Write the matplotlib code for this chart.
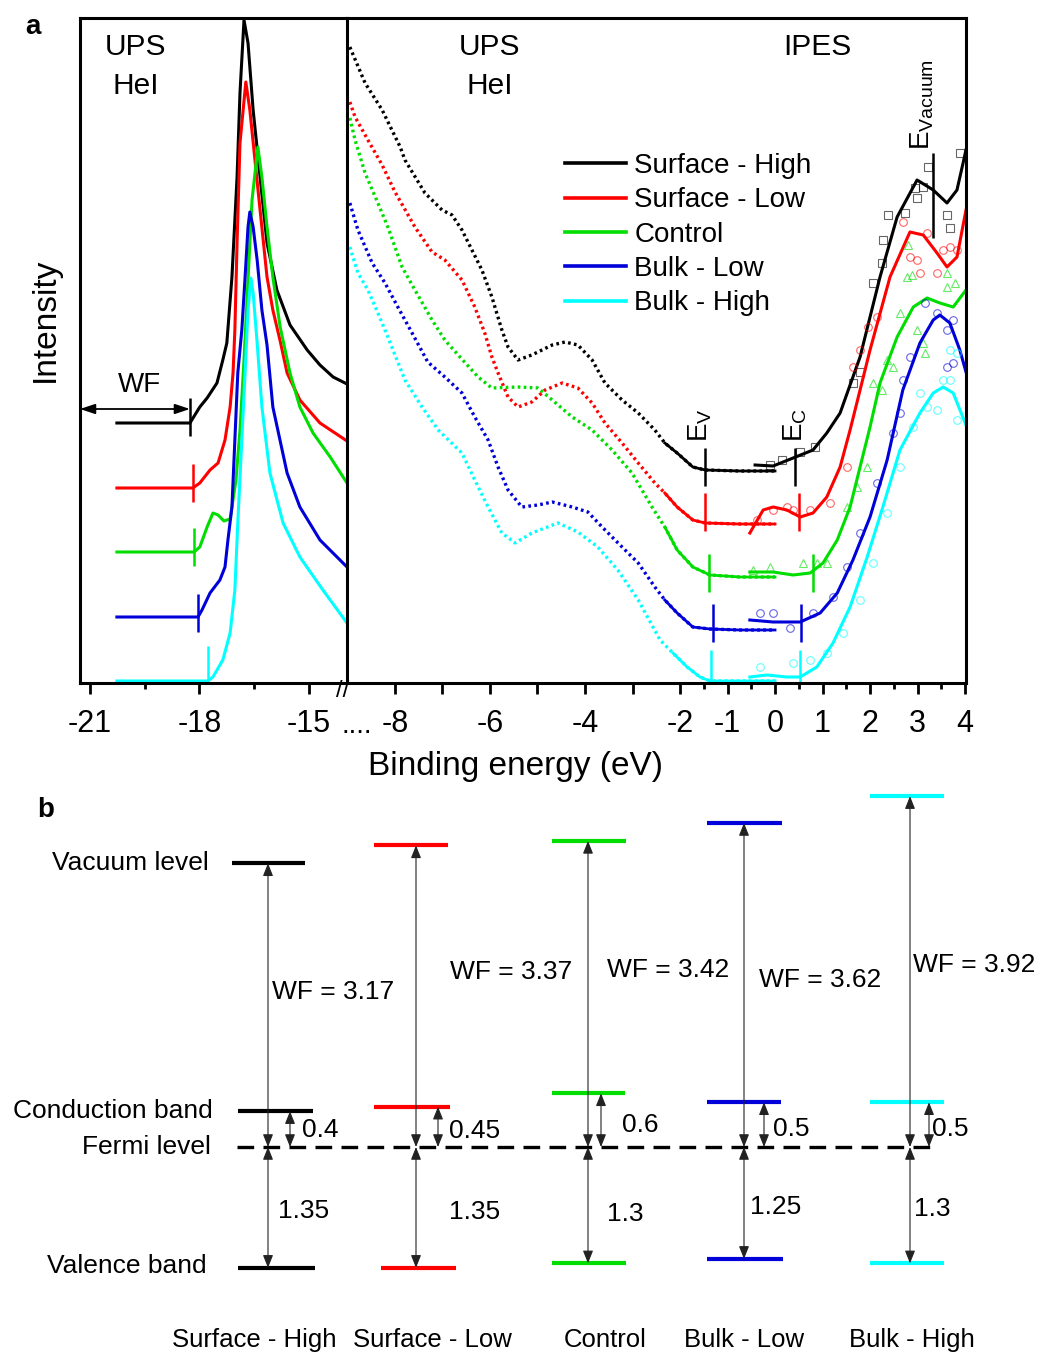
import numpy as np
import matplotlib
matplotlib.use('Agg')
import matplotlib.pyplot as plt
from matplotlib.lines import Line2D

plt.rcParams['font.family'] = ['Liberation Sans', 'DejaVu Sans']
plt.rcParams['axes.unicode_minus'] = False
plt.rcParams['mathtext.fontset'] = 'custom'
plt.rcParams['mathtext.rm'] = 'Liberation Sans'
plt.rcParams['mathtext.it'] = 'Liberation Sans:italic'

# ---------------- data ----------------
samples = ['Surface - High', 'Surface - Low', 'Control', 'Bulk - Low', 'Bulk - High']
colors = ['black', '#ff0000', '#00dd00', '#0000d8', '#00ffff']

# UPS secondary electron cutoff region (binding energy, intensity a.u.)
sec_e_sh = [-20.26, -18.26, -17.99, -17.79, -17.52, -17.36, -17.25, -17.11, -16.97, -16.89, -16.78,
            -16.67, -16.53, -16.34, -16.15, -15.88, -15.52, -15.05, -14.70, -14.34, -13.96]
sec_i_sh = [260, 260, 276, 285, 300, 323, 340, 406, 506, 590, 663,
            640, 573, 506, 440, 393, 358, 333, 318, 306, 299]
sec_e_sl = [-20.26, -18.18, -17.99, -17.71, -17.49, -17.30, -17.16, -17.08, -17.03, -16.97, -16.89,
            -16.73, -16.62, -16.48, -16.34, -16.15, -15.99, -15.79, -15.60, -15.25, -14.70, -13.96]
sec_i_sl = [195, 195, 200, 213, 220, 243, 276, 310, 353, 440, 540,
            601, 573, 523, 473, 406, 373, 342, 310, 283, 260, 242]
sec_e_ct = [-20.26, -18.15, -17.99, -17.79, -17.63, -17.49, -17.33, -17.16, -17.00, -16.89, -16.78,
            -16.67, -16.56, -16.40, -16.29, -16.15, -15.99, -15.79, -15.52, -15.25, -14.89, -14.42, -13.96]
sec_i_ct = [131, 131, 136, 156, 170, 168, 162, 164, 203, 253, 323,
            403, 483, 536, 506, 456, 406, 356, 310, 276, 250, 226, 200]
sec_e_bl = [-20.26, -18.04, -17.93, -17.71, -17.44, -17.30, -17.22, -17.11, -17.03, -16.95, -16.84,
            -16.75, -16.67, -16.62, -16.53, -16.42, -16.29, -16.15, -15.99, -15.60, -15.25, -14.70, -13.96]
sec_i_bl = [66, 66, 73, 90, 103, 116, 143, 176, 243, 310, 353,
            406, 456, 471, 456, 423, 373, 338, 276, 210, 176, 143, 116]
sec_e_bh = [-20.26, -17.77, -17.63, -17.36, -17.16, -17.03, -16.95, -16.84, -16.75, -16.67,
            -16.59, -16.53, -16.42, -16.29, -16.07, -15.71, -15.25, -14.62, -13.96]
sec_i_bh = [2, 2, 6, 23, 50, 93, 160, 243, 310, 373,
            405, 390, 340, 276, 210, 160, 126, 93, 60]
cutoff_e = [-18.26, -18.18, -18.15, -18.04, -17.77]
cutoff_i = [266, 200, 136, 70, 18]

# UPS valence region
ups_e_sh = [-8.95, -8.63, -8.27, -7.89, -7.79, -7.37, -7.01, -6.80, -6.59, -6.38, -6.17, -5.96, -5.75, -5.62,
            -5.41, -5.12, -4.69, -4.42, -4.15, -3.85, -3.58, -3.22, -2.88, -2.53, -2.32, -2.06, -1.73,
            -1.47, -0.74, 0.0]
ups_i_sh = [636, 600, 573, 536, 523, 490, 473, 468, 453, 433, 413, 386, 353, 336,
            323, 328, 338, 341, 338, 323, 300, 283, 270, 253, 240, 230, 216, 213, 212, 212]
ups_e_sl = [-8.95, -8.84, -8.57, -8.27, -8.00, -7.58, -7.22, -6.95, -6.59, -6.32, -6.11, -5.96, -5.83,
            -5.62, -5.41, -5.12, -4.84, -4.48, -4.15, -3.85, -3.58, -3.22, -2.88, -2.53, -2.32, -2.06,
            -1.73, -1.47, -0.74, 0.0]
ups_i_sl = [581, 566, 543, 518, 491, 456, 431, 423, 403, 376, 350, 326, 310,
            286, 276, 281, 293, 300, 295, 280, 260, 240, 220, 200, 190, 176, 163, 160, 159, 159]
ups_e_ct = [-8.95, -8.84, -8.63, -8.36, -8.15, -7.85, -7.58, -7.22, -6.95, -6.67, -6.25, -5.96, -5.41,
            -4.99, -4.69, -4.27, -3.85, -3.43, -3.01, -2.59, -2.32, -2.06, -1.73, -1.37, -0.74, 0.0]
ups_i_ct = [565, 543, 510, 480, 456, 416, 393, 363, 343, 328, 306, 295, 296,
            295, 283, 266, 253, 233, 210, 176, 156, 133, 116, 108, 106, 106]
ups_e_bl = [-8.95, -8.78, -8.48, -8.21, -7.94, -7.64, -7.31, -6.95, -6.59, -6.32, -6.04, -5.83, -5.62,
            -5.33, -4.99, -4.69, -4.27, -3.94, -3.64, -3.22, -2.88, -2.53, -2.32, -2.06, -1.73, -1.37,
            -0.74, 0.0]
ups_i_bl = [480, 453, 420, 400, 376, 350, 321, 306, 290, 266, 243, 216, 193,
            176, 178, 181, 176, 171, 156, 136, 120, 96, 83, 70, 56, 54, 53, 53]
ups_e_bh = [-8.95, -8.78, -8.57, -8.36, -8.15, -7.79, -7.43, -7.09, -6.59, -6.32, -6.04, -5.75, -5.47,
            -5.12, -4.57, -4.15, -3.73, -3.31, -2.88, -2.42, -2.15, -1.85, -1.58, -1.37, -0.74, 0.0]
ups_i_bh = [436, 410, 393, 370, 346, 303, 276, 253, 230, 203, 176, 150, 140,
            150, 160, 151, 136, 113, 83, 43, 30, 16, 6, 2, 2, 2]

# IPES fitted curves
ipes_e_sh = [-0.42, -0.04, 0.38, 0.80, 1.09, 1.37, 1.79, 2.21, 2.57, 2.99, 3.33, 3.62, 3.83, 4.02]
ipes_i_sh = [218, 217, 225, 233, 250, 270, 326, 406, 466, 503, 493, 480, 493, 533]
ipes_e_sl = [-0.53, -0.25, -0.04, 0.25, 0.53, 0.80, 1.09, 1.37, 1.58, 2.00, 2.42, 2.84, 3.12, 3.41,
             3.62, 3.83, 4.02]
ipes_i_sl = [150, 173, 176, 173, 166, 170, 186, 216, 253, 333, 406, 451, 448, 430, 416, 426, 473]
ipes_e_ct = [-0.53, -0.04, 0.38, 0.74, 1.01, 1.31, 1.58, 1.79, 2.00, 2.21, 2.57, 2.91, 3.20, 3.47,
             3.75, 4.02]
ipes_i_ct = [111, 111, 108, 110, 120, 143, 176, 216, 256, 300, 346, 376, 385, 380, 376, 393]
ipes_e_bl = [-0.53, -0.04, 0.53, 0.95, 1.31, 1.64, 2.00, 2.36, 2.69, 3.05, 3.33, 3.47, 3.68, 3.89, 4.02]
ipes_i_bl = [63, 61, 61, 70, 90, 123, 166, 223, 293, 340, 363, 368, 360, 333, 311]
ipes_e_bh = [-0.53, -0.17, 0.25, 0.53, 0.88, 1.22, 1.58, 1.94, 2.27, 2.63, 3.05, 3.33, 3.54, 3.75, 4.02]
ipes_i_bh = [6, 8, 6, 6, 16, 40, 76, 126, 176, 233, 270, 290, 296, 290, 258]

# IPES raw points
raw_e_sh = [-0.11, 0.15, 0.53, 0.84, 1.64, 1.79, 2.06, 2.25, 2.27, 2.38, 2.74, 2.99, 2.95, 3.12, 3.22,
            3.62, 3.68, 3.89]
raw_i_sh = [218, 223, 231, 236, 300, 311, 400, 420, 443, 468, 470, 485, 495, 496, 516, 468, 455, 530]
raw_e_sl = [-0.38, -0.04, 0.25, 0.38, 0.74, 1.16, 1.52, 1.64, 1.79, 1.96, 2.15, 2.69, 2.84, 2.99, 3.05,
            3.20, 3.41, 3.54, 3.68, 3.83]
raw_i_sl = [163, 173, 176, 173, 173, 180, 216, 316, 333, 356, 366, 461, 426, 423, 410, 450, 410, 433,
            436, 433]
raw_e_ct = [-0.46, -0.11, 0.59, 0.88, 1.09, 1.52, 1.73, 1.94, 2.06, 2.25, 2.36, 2.48, 2.63, 2.78, 2.80,
            2.88, 2.99, 3.12, 3.16, 3.62, 3.62, 3.79]
raw_i_ct = [113, 116, 120, 120, 120, 176, 196, 216, 300, 293, 323, 316, 370, 406, 438, 408, 353, 340,
            330, 396, 410, 400]
raw_e_bl = [-0.32, -0.04, 0.32, 0.80, 1.22, 1.52, 1.79, 2.15, 2.48, 2.63, 2.69, 2.84, 3.16, 3.41, 3.62,
            3.75, 3.62, 3.75]
raw_i_bl = [70, 70, 55, 70, 86, 116, 150, 200, 250, 270, 303, 326, 380, 370, 353, 363, 316, 320]
raw_e_bh = [-0.32, 0.38, 0.74, 1.09, 1.43, 1.79, 2.06, 2.36, 2.63, 2.91, 3.05, 3.20, 3.41, 3.54, 3.68,
            3.68, 3.83, 3.83]
raw_i_bh = [16, 20, 23, 30, 50, 83, 120, 170, 216, 256, 290, 276, 273, 303, 333, 303, 330, 263]

# band edge markers in panel a
ev_e = [-1.47, -1.47, -1.39, -1.31, -1.35]
ec_e = [0.42, 0.51, 0.80, 0.55, 0.53]
edge_i = [216, 171, 110, 60, 14]
evac_e = 3.33

# panel b energies (eV, relative to Fermi level)
wf = [3.17, 3.37, 3.42, 3.62, 3.92]
cb = [0.4, 0.45, 0.6, 0.5, 0.5]
vb = [1.35, 1.35, 1.3, 1.25, 1.3]
cb_labels = ['0.4', '0.45', '0.6', '0.5', '0.5']
vb_labels = ['1.35', '1.35', '1.3', '1.25', '1.3']

sec_e = [sec_e_sh, sec_e_sl, sec_e_ct, sec_e_bl, sec_e_bh]
sec_i = [sec_i_sh, sec_i_sl, sec_i_ct, sec_i_bl, sec_i_bh]
ups_e = [ups_e_sh, ups_e_sl, ups_e_ct, ups_e_bl, ups_e_bh]
ups_i = [ups_i_sh, ups_i_sl, ups_i_ct, ups_i_bl, ups_i_bh]
ipes_e = [ipes_e_sh, ipes_e_sl, ipes_e_ct, ipes_e_bl, ipes_e_bh]
ipes_i = [ipes_i_sh, ipes_i_sl, ipes_i_ct, ipes_i_bl, ipes_i_bh]
raw_e = [raw_e_sh, raw_e_sl, raw_e_ct, raw_e_bl, raw_e_bh]
raw_i = [raw_i_sh, raw_i_sl, raw_i_ct, raw_i_bl, raw_i_bh]
raw_m = ['s', 'o', '^', 'o', 'o']

# ---------------- figure ----------------
W, H = 1042, 1353
fig = plt.figure(figsize=(W / 100, H / 100), dpi=100)

ax_l = fig.add_axes([80 / W, 1 - 683 / H, 267 / W, 665 / H])
ax_r = fig.add_axes([347 / W, 1 - 683 / H, 619 / W, 665 / H])

for ax in (ax_l, ax_r):
    ax.set_ylim(0, 665)
    ax.set_yticks([])
    for s in ax.spines.values():
        s.set_linewidth(2.2)
    ax.tick_params(axis='x', which='major', direction='out', length=8, width=2,
                   labelsize=22, pad=10.5)
    ax.tick_params(axis='x', which='minor', direction='out', length=4.5, width=2)
ax_l.spines['right'].set_visible(False)

# left: secondary electron cutoff
ax_l.set_xlim(-21.27, -13.96)
ax_l.set_xticks([-21, -18, -15])
ax_l.set_xticks([-19.5, -16.5], minor=True)
for k in range(5):
    ax_l.plot(sec_e[k], sec_i[k], color=colors[k], lw=2.2)
    ax_l.vlines(cutoff_e[k], cutoff_i[k] - 19, cutoff_i[k] + 19, color=colors[k], lw=1.8)
ax_l.annotate('', xy=(-21.27, 274), xytext=(cutoff_e[0], 274),
              arrowprops=dict(arrowstyle='<|-|>,head_length=0.9,head_width=0.3',
                              color='k', lw=1.3, shrinkA=0, shrinkB=0))
ax_l.text(-19.63, 298, 'WF', fontsize=20, ha='center', va='center')
ax_l.text(-19.74, 636, 'UPS', fontsize=21.5, ha='center', va='center')
ax_l.text(-19.74, 597, 'HeI', fontsize=21.5, ha='center', va='center')

# right: valence + IPES
ax_r.set_xlim(-9.01, 4.02)
major = [-8, -7, -6, -5, -4, -3, -2, -1, 0, 1, 2, 3, 4]
ax_r.set_xticks(major)
ax_r.set_xticklabels(['-8', '', '-6', '', '-4', '', '-2', '-1', '0', '1', '2', '3', '4'])
ax_r.set_xticks([-1.5, -0.5, 0.5, 1.5, 2.5, 3.5], minor=True)

for k in range(5):
    e = np.array(ups_e[k])
    i = np.array(ups_i[k])
    ax_r.plot(e, i, color=colors[k], lw=2.4, linestyle=(0, (0.8, 1.0)))
    j = np.searchsorted(e, -2.1) - 1
    ax_r.plot(e[j:], i[j:], color=colors[k], lw=2.0)
    ax_r.plot(raw_e[k], raw_i[k], linestyle='none', marker=raw_m[k], ms=5.5, mfc='none',
              mec=colors[k], mew=0.8, alpha=0.6)
    ax_r.plot(ipes_e[k], ipes_i[k], color=colors[k], lw=2.2)
    ax_r.vlines(ev_e[k], edge_i[k] - 19, edge_i[k] + 19, color=colors[k], lw=1.8)
    ax_r.vlines(ec_e[k], edge_i[k] - 19, edge_i[k] + 19, color=colors[k], lw=1.8)
ax_r.vlines(evac_e, 445, 530, color='k', lw=1.8)

ax_r.text(-1.58, 258, r'E$_\mathrm{V}$', fontsize=20, rotation=90, ha='center', va='center')
ax_r.text(0.42, 258, r'E$_\mathrm{C}$', fontsize=20, rotation=90, ha='center', va='center')
ax_r.text(3.09, 578, r'E$_\mathrm{Vacuum}$', fontsize=20, rotation=90, ha='center', va='center')
ax_r.text(-6.0, 636, 'UPS', fontsize=21.5, ha='center', va='center')
ax_r.text(-6.0, 597, 'HeI', fontsize=21.5, ha='center', va='center')
ax_r.text(0.89, 636, 'IPES', fontsize=21.5, ha='center', va='center')

handles = [Line2D([], [], color=c, lw=2.6) for c in colors]
ax_r.legend(handles, samples, loc='upper left', bbox_to_anchor=(565 / W, 1 - 153 / H),
            bbox_transform=fig.transFigure, frameon=False, fontsize=20, handlelength=2.2,
            handletextpad=0.3, labelspacing=0.3, borderpad=0, borderaxespad=0)

fig.text(45 / W, 1 - 320 / H, 'Intensity', fontsize=24, rotation=90, ha='center', va='center')
fig.text(516 / W, 1 - 767 / H, 'Binding energy (eV)', fontsize=24, ha='center', va='center')
fig.text(343 / W, 1 - 691 / H, '//', fontsize=17, ha='center', va='center')
fig.text(357 / W, 1 - 733 / H, '....', fontsize=20, ha='center', va='baseline')
fig.text(33 / W, 1 - 27 / H, 'a', fontsize=20, fontweight='bold', ha='center', va='center')
fig.text(46 / W, 1 - 810 / H, 'b', fontsize=20, fontweight='bold', ha='center', va='center')

# ---------------- panel b: energy level diagram ----------------
ax_b = fig.add_axes([0, 0, 1, 573 / H])
ax_b.set_xlim(0, W)
ax_b.set_ylim(-206 / 89.5, 367 / 89.5)
ax_b.axis('off')

vac_x = [(232, 305), (374, 448), (552, 626), (707, 782), (870, 944)]
cb_x = [(238, 313), (374, 450), (552, 625), (707, 781), (870, 944)]
vb_x = [(238, 315), (381, 456), (552, 626), (707, 783), (870, 944)]
arr_x = [268, 416, 588, 744, 910]
sml_x = [290, 438, 601, 764, 929]
wf_pos = [(272, 1.73), (450, 1.96), (607, 1.98), (759, 1.87), (913, 2.03)]
cb_pos = [(302, 0.19), (449, 0.18), (622, 0.25), (773, 0.20), (932, 0.20)]
vb_pos = [(278, -0.72), (449, -0.73), (607, -0.75), (750, -0.67), (914, -0.69)]
name_x = [254, 432, 605, 744, 912]

arrow_kw = dict(arrowstyle='<|-|>,head_length=0.55,head_width=0.22', color='#222222',
                lw=0.8, shrinkA=0, shrinkB=0, mutation_scale=14)
ax_b.hlines(0, 237, 935, color='k', lw=2.4, linestyles=(0, (5, 2.8)))
for k in range(5):
    c = colors[k]
    ax_b.hlines(wf[k], *vac_x[k], color=c, lw=3)
    ax_b.hlines(cb[k], *cb_x[k], color=c, lw=3)
    ax_b.hlines(-vb[k], *vb_x[k], color=c, lw=3)
    ax_b.annotate('', xy=(arr_x[k], wf[k]), xytext=(arr_x[k], 0), arrowprops=arrow_kw)
    ax_b.annotate('', xy=(arr_x[k], 0), xytext=(arr_x[k], -vb[k]), arrowprops=arrow_kw)
    ax_b.annotate('', xy=(sml_x[k], cb[k]), xytext=(sml_x[k], 0), arrowprops=arrow_kw)
    ax_b.text(wf_pos[k][0], wf_pos[k][1], 'WF = %.2f' % wf[k], fontsize=19, ha='left', va='center')
    ax_b.text(cb_pos[k][0], cb_pos[k][1], cb_labels[k], fontsize=19, ha='left', va='center')
    ax_b.text(vb_pos[k][0], vb_pos[k][1], vb_labels[k], fontsize=19, ha='left', va='center')
    ax_b.text(name_x[k], -2.16, samples[k], fontsize=18.5, ha='center', va='center')

ax_b.text(209, wf[0], 'Vacuum level', fontsize=19, ha='right', va='center')
ax_b.text(213, cb[0], 'Conduction band', fontsize=19, ha='right', va='center')
ax_b.text(211, 0, 'Fermi level', fontsize=19, ha='right', va='center')
ax_b.text(207, -vb[0] + 0.02, 'Valence band', fontsize=19, ha='right', va='center')

fig.savefig('out.png', dpi=100)
